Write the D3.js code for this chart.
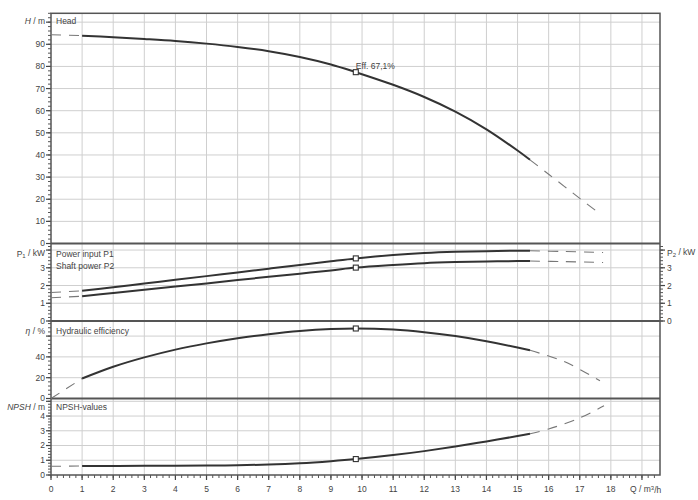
<!DOCTYPE html>
<html><head><meta charset="utf-8">
<script src="https://cdn.jsdelivr.net/npm/d3@7"></script>
<style>
body{margin:0;background:#fff;}
svg text{font-family:"Liberation Sans",Arial,sans-serif;fill:#444;}
</style></head><body>
<svg id="c" width="698" height="500"></svg>
<script>
// ---------- data ----------
const qTicks = d3.range(0, 19, 1);           // 0..18 labelled
const qGrid  = d3.range(0, 20, 1);           // 0..19 grid lines

// Head (m)
const headQ = [0, 1, 2, 3, 4, 5, 6, 7, 8, 9, 9.8, 11, 12, 13, 14, 15, 15.4, 16, 17, 17.65];
const headH = [94.3, 93.9, 93.2, 92.4, 91.5, 90.3, 88.8, 86.9, 84.3, 80.9, 77.4, 71.7, 66.2, 59.6, 51.6, 42.0, 37.8, 31.3, 20.4, 13.4];
// Power input P1 / shaft power P2 (kW)
const powQ  = [0, 1, 2, 3, 4, 5, 6, 7, 8, 9, 9.8, 11, 12, 13, 14, 15, 15.4, 16.5, 17.75];
const powP1 = [1.61, 1.70, 1.90, 2.11, 2.32, 2.53, 2.74, 2.95, 3.16, 3.37, 3.53, 3.72, 3.83, 3.90, 3.94, 3.96, 3.96, 3.92, 3.86];
const powP2 = [1.31, 1.40, 1.58, 1.76, 1.94, 2.12, 2.31, 2.49, 2.67, 2.85, 3.01, 3.16, 3.26, 3.32, 3.36, 3.38, 3.38, 3.35, 3.30];
// Hydraulic efficiency (%)
const effQ  = [0, 1, 2, 3, 4, 5, 6, 7, 8, 9, 9.8, 11, 12, 13, 14, 15, 15.4, 16.5, 17.65];
const effE  = [0, 19.2, 30.5, 39.5, 47, 53, 58, 61.8, 64.8, 66.7, 67.3, 66.3, 63.8, 60, 55, 49, 46.3, 35.5, 17];
// NPSH (m)
const npshQ = [0, 1, 2, 3, 4, 5, 6, 7, 8, 9, 9.8, 11, 12, 13, 14, 15, 15.4, 16, 17, 17.78];
const npshN = [0.59, 0.61, 0.61, 0.62, 0.63, 0.64, 0.66, 0.71, 0.80, 0.94, 1.08, 1.35, 1.62, 1.93, 2.28, 2.64, 2.80, 3.12, 3.87, 4.7];

const solidFrom = 1, solidTo = 15.4, dutyQ = 9.8;
const effLabel = "Eff.  67,1%";

const headTicks = [0,10,20,30,40,50,60,70,80,90];
const powTicks  = [0,1,2,3];
const effTicks  = [0,20,40];
const npshTicks = [0,1,2,3,4];

// ---------- layout ----------
const svg = d3.select("#c");
const L = 51, R = 660;
const x = d3.scaleLinear().domain([0, 19.58]).range([L, R]);

const panels = [
  {key:"head", y: d3.scaleLinear().domain([0,104]).range([243.5,13.3]), ticks: headTicks, grid:[0,10,20,30,40,50,60,70,80,90,100], minor:2,
   title:["Head"], labelY:21},
  {key:"pow", y: d3.scaleLinear().domain([0,4.37]).range([321,243.5]), ticks: powTicks, grid:[0,1,2,3,4], minor:0.2,
   title:["Power input P1","Shaft power P2"], labelY:254},
  {key:"eff", y: d3.scaleLinear().domain([0,74.5]).range([398.5,321]), ticks: effTicks, grid:[0,20,40,60], minor:4,
   title:["Hydraulic efficiency"], labelY:331},
  {key:"npsh", y: d3.scaleLinear().domain([0,5.19]).range([475,398.5]), ticks: npshTicks, grid:[0,1,2,3,4,5], minor:0.2,
   title:["NPSH-values"], labelY:407}
];

const g = svg.append("g");

// vertical grid
g.selectAll("line.vg").data(qGrid.filter(d=>d>0)).enter().append("line")
  .attr("x1", d=>x(d)).attr("x2", d=>x(d)).attr("y1", 13.3).attr("y2", 475)
  .attr("stroke", "#cfcfcf").attr("stroke-width", 1);

panels.forEach(p => {
  const y = p.y;
  const [y0, y1] = y.range();
  g.selectAll(null).data(p.grid.filter(d => y(d) > y1 + 2 && y(d) < y0 - 1)).enter().append("line")
    .attr("x1", L).attr("x2", R).attr("y1", d=>y(d)).attr("y2", d=>y(d))
    .attr("stroke", "#cfcfcf").attr("stroke-width", 1);
  const dom = y.domain();
  const minorVals = d3.range(0, dom[1] + 1e-9, p.minor);
  g.selectAll(null).data(minorVals).enter().append("line")
    .attr("x1", L-3).attr("x2", L).attr("y1", d=>y(d)).attr("y2", d=>y(d))
    .attr("stroke", "#555").attr("stroke-width", 1);
  g.selectAll(null).data(p.grid).enter().append("line")
    .attr("x1", L-5).attr("x2", L).attr("y1", d=>y(d)).attr("y2", d=>y(d))
    .attr("stroke", "#444").attr("stroke-width", 1.2);
  g.selectAll(null).data(p.ticks).enter().append("text")
    .attr("x", L-6).attr("y", d=>y(d)).attr("dy", "0.35em")
    .attr("text-anchor", "end").attr("font-size", 8.5).text(d=>d);
  const lt = g.append("text").attr("x", L-6).attr("y", p.labelY).attr("dy","0.35em")
    .attr("text-anchor","end").attr("font-size", 8.5);
  if (p.key === "head") {
    lt.append("tspan").attr("font-style","italic").text("H");
    lt.append("tspan").text(" / m");
  } else if (p.key === "pow") {
    lt.append("tspan").text("P");
    lt.append("tspan").attr("font-size",6).attr("dy","0.25em").text("1");
    lt.append("tspan").attr("dy","-0.25em").text(" / kW");
  } else if (p.key === "eff") {
    lt.append("tspan").attr("font-style","italic").text("η");
    lt.append("tspan").text(" / %");
  } else {
    lt.append("tspan").attr("font-style","italic").text("NPSH");
    lt.append("tspan").text(" / m");
  }
  p.title.forEach((t, i) => {
    g.append("text").attr("x", 56).attr("y", p.labelY + i*12.5).attr("dy","0.35em")
      .attr("font-size", 8.5).text(t);
  });
});

// right axis for power panel
{
  const y = panels[1].y;
  g.selectAll(null).data(d3.range(0, 4.37, 0.2)).enter().append("line")
    .attr("x1", R).attr("x2", R+3).attr("y1", d=>y(d)).attr("y2", d=>y(d))
    .attr("stroke", "#555").attr("stroke-width", 1);
  g.selectAll(null).data([0,1,2,3,4]).enter().append("line")
    .attr("x1", R).attr("x2", R+5).attr("y1", d=>y(d)).attr("y2", d=>y(d))
    .attr("stroke", "#444").attr("stroke-width", 1.2);
  g.selectAll(null).data(powTicks).enter().append("text")
    .attr("x", R+7).attr("y", d=>y(d)).attr("dy","0.35em").attr("font-size", 8.5).text(d=>d);
  const rt = g.append("text").attr("x", R+7).attr("y", 253).attr("dy","0.35em").attr("font-size", 8.5);
  rt.append("tspan").text("P");
  rt.append("tspan").attr("font-size",6).attr("dy","0.25em").text("2");
  rt.append("tspan").attr("dy","-0.25em").text(" / kW");
}

// x axis ticks
g.selectAll(null).data(d3.range(0, 19.5, 0.2)).enter().append("line")
  .attr("x1", d=>x(d)).attr("x2", d=>x(d)).attr("y1", 475).attr("y2", 478)
  .attr("stroke", "#555").attr("stroke-width", 1);
g.selectAll(null).data(qGrid).enter().append("line")
  .attr("x1", d=>x(d)).attr("x2", d=>x(d)).attr("y1", 475).attr("y2", 480)
  .attr("stroke", "#444").attr("stroke-width", 1.2);
g.selectAll(null).data(qTicks).enter().append("text")
  .attr("x", d=>x(d)).attr("y", 489).attr("dy","0.35em").attr("text-anchor","middle")
  .attr("font-size", 8.5).text(d=>d);
{
  const qt = g.append("text").attr("x", 630).attr("y", 489).attr("dy","0.35em").attr("font-size", 8.5);
  qt.append("tspan").text("Q / m");
  qt.append("tspan").attr("font-size",6).attr("dy","-0.35em").text("3");
  qt.append("tspan").attr("dy","0.35em").text("/h");
}

// panel frames
g.append("rect").attr("x", L).attr("y", 13.3).attr("width", R-L).attr("height", 475-13.3)
  .attr("fill","none").attr("stroke","#555").attr("stroke-width",1.5);
[243.5, 321, 398.5].forEach(yy => {
  g.append("line").attr("x1", L).attr("x2", R).attr("y1", yy).attr("y2", yy)
    .attr("stroke","#555").attr("stroke-width",1.8);
});

// curves
function drawCurve(qs, vs, y) {
  const pts = qs.map((q,i)=>[q, vs[i]]);
  const line = d3.line().x(d=>x(d[0])).y(d=>y(d[1])).curve(d3.curveCatmullRom.alpha(0.5));
  const solid = pts.filter(d => d[0] >= solidFrom - 1e-9 && d[0] <= solidTo + 1e-9);
  const left = pts.filter(d => d[0] <= solidFrom + 1e-9);
  const right = pts.filter(d => d[0] >= solidTo - 1e-9);
  [left, right].forEach(seg => {
    g.append("path").attr("d", line(seg)).attr("fill","none")
      .attr("stroke","#777").attr("stroke-width",1.1).attr("stroke-dasharray","10,8");
  });
  g.append("path").attr("d", line(solid)).attr("fill","none")
    .attr("stroke","#333").attr("stroke-width",2);
  const i = qs.indexOf(dutyQ);
  g.append("rect").attr("x", x(dutyQ)-2.5).attr("y", y(vs[i])-2.5).attr("width",5).attr("height",5)
    .attr("fill","#fff").attr("stroke","#333").attr("stroke-width",1.1);
}
drawCurve(headQ, headH, panels[0].y);
drawCurve(powQ, powP1, panels[1].y);
drawCurve(powQ, powP2, panels[1].y);
drawCurve(effQ, effE, panels[2].y);
drawCurve(npshQ, npshN, panels[3].y);

g.append("text").attr("x", x(dutyQ)).attr("y", 66).attr("dy","0.35em").attr("font-size",8.5).text(effLabel);
</script>
</body></html>
